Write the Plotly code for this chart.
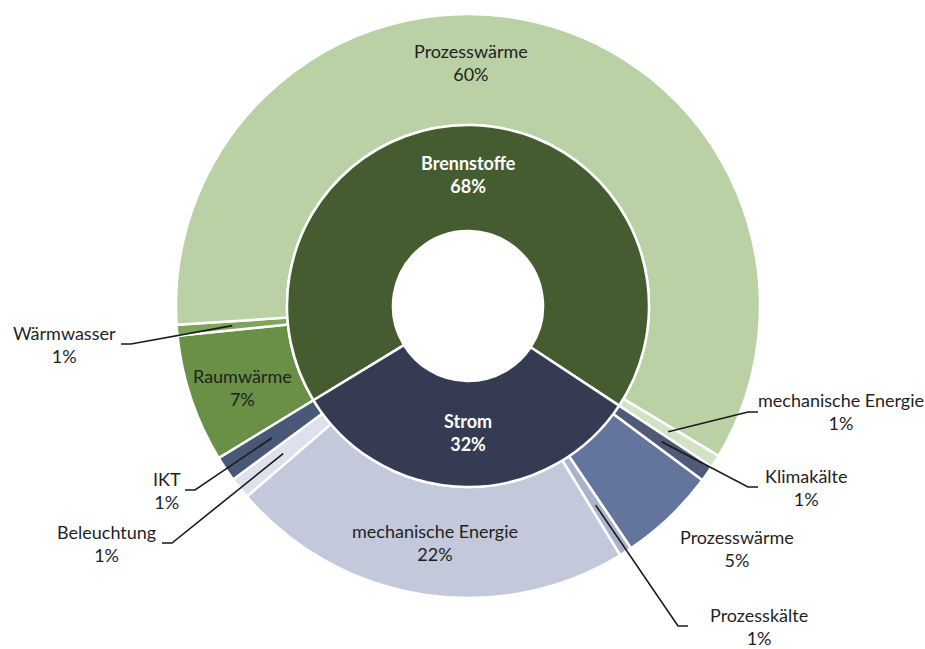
import math
import plotly.graph_objects as go

# Final energy use: carriers (inner ring) and their applications (outer ring), in %
carriers = ["Brennstoffe", "Strom"]
carrier_values = [68.0, 32.0]
carrier_colors = ["#445C2F", "#343B52"]

uses = ["Raumwärme", "Wärmwasser", "Prozesswärme", "mechanische Energie",
        "Klimakälte", "Prozesswärme", "Prozesskälte", "mechanische Energie",
        "Beleuchtung", "IKT"]
use_values = [7.1, 0.6, 59.6, 0.7,
              0.9, 5.4, 0.7, 22.4, 1.2, 1.4]
use_colors = ["#6A8F47", "#7FA35A", "#B9D1A5", "#D3E2C5",
              "#4E5A78", "#64759D", "#A9B3CA", "#C3C9DA", "#DEE1EB", "#4A5877"]

# ---- geometry (pixels) ----
W, H = 925, 649
CX, CY = 468, 306
R_OUT, R_MID, R_HOLE = 292, 181, 75
START = 238.6          # start angle, degrees clockwise from 12 o'clock
TOTAL = sum(carrier_values)

FONT = "Lato"
TXT = "#1f1f1f"


def px(x, y):
    return x / W, 1 - y / H


def domain(r):
    x0, y1 = px(CX - r, CY - r)
    x1, y0 = px(CX + r, CY + r)
    return dict(x=[x0, x1], y=[y0, y1])


fig = go.Figure()

fig.add_trace(go.Pie(
    labels=[f"{u} ({i})" for i, u in enumerate(uses)], values=use_values,
    sort=False, direction="clockwise", rotation=START,
    hole=R_MID / R_OUT, domain=domain(R_OUT),
    marker=dict(colors=use_colors, line=dict(color="white", width=2.5)),
    textinfo="none", hoverinfo="label+value", showlegend=False,
))
fig.add_trace(go.Pie(
    labels=carriers, values=carrier_values,
    sort=False, direction="clockwise", rotation=START,
    hole=R_HOLE / R_MID, domain=domain(R_MID),
    marker=dict(colors=carrier_colors, line=dict(color="white", width=2.5)),
    textinfo="none", hoverinfo="label+value", showlegend=False,
))

# mid angle of every outer slice, from the data
mid_angles = []
acc = 0.0
for v in use_values:
    mid_angles.append(START + 360 * (acc + v / 2) / TOTAL)
    acc += v


def ring_point(angle, r):
    a = math.radians(angle)
    return CX + r * math.sin(a), CY - r * math.cos(a)


# label placement: centre of the text block (px), optional elbow of leader line
use_label_pos = [
    (242, 387, None),          # Raumwärme
    (64, 344, (131, 121)),     # Wärmwasser
    (471, 62, None),           # Prozesswärme
    (841, 412, (748, 758)),    # mechanische Energie
    (806, 487, (748, 758)),    # Klimakälte
    (737, 548, None),          # Prozesswärme
    (759, 626, (678, 688)),    # Prozesskälte
    (435, 542, None),          # mechanische Energie
    (106, 543, (172, 162)),    # Beleuchtung
    (167, 490, (195, 185)),    # IKT
]
carrier_label_pos = [(468, 174), (468, 432)]

annotations = []
shapes = []
r_lead = (R_OUT + R_MID) / 2
for name, v, ang, (lx, ly, elbow) in zip(uses, use_values, mid_angles, use_label_pos):
    x, y = px(lx, ly)
    annotations.append(dict(
        x=x, y=y, xref="paper", yref="paper", xanchor="center", yanchor="middle",
        text=f"{name}<br>{v:.0f}%", showarrow=False,
        font=dict(family=FONT, size=18, color=TXT),
    ))
    if elbow is not None:
        sx, sy = ring_point(ang, r_lead)
        ex, ey = elbow[0], ly
        tx = elbow[1]
        p0 = px(sx, sy)
        p1 = px(ex, ey)
        p2 = px(tx, ey)
        shapes.append(dict(
            type="path", xref="paper", yref="paper",
            path=f"M {p0[0]},{p0[1]} L {p1[0]},{p1[1]} L {p2[0]},{p2[1]}",
            line=dict(color="#1a1a1a", width=1.6),
        ))

for name, v, (lx, ly) in zip(carriers, carrier_values, carrier_label_pos):
    x, y = px(lx, ly)
    annotations.append(dict(
        x=x, y=y, xref="paper", yref="paper", xanchor="center", yanchor="middle",
        text=f"<b>{name}</b><br><b>{v:.0f}%</b>", showarrow=False,
        font=dict(family=FONT, size=18, color="white"),
    ))

fig.update_layout(
    width=W, height=H,
    margin=dict(l=0, r=0, t=0, b=0),
    paper_bgcolor="white", plot_bgcolor="white",
    showlegend=False,
    annotations=annotations, shapes=shapes,
)

fig.write_html("out.html")
